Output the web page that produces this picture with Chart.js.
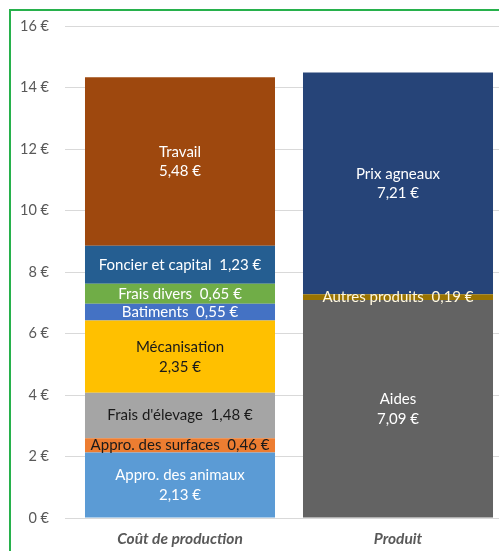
<!DOCTYPE html>
<html>
<head>
<meta charset="utf-8">
<script src="https://cdn.jsdelivr.net/npm/chart.js@4/dist/chart.umd.min.js"></script>
<style>
  html, body { margin: 0; padding: 0; background: #fff; overflow: hidden; }
  #frame { position: absolute; left: 9px; top: 9px; width: 600px; height: 600px; border: 2px solid #27b14c; }
  #chart { position: absolute; left: 0; top: 0; }
</style>
</head>
<body>
<div id="frame"></div>
<canvas id="chart" width="520" height="551"></canvas>
<script>
var categories = ["Coût de production", "Produit"];

var costNames = ["Appro. des animaux", "Appro. des surfaces", "Frais d'élevage", "Mécanisation",
                 "Batiments", "Frais divers", "Foncier et capital", "Travail"];
var costValues = [2.13, 0.46, 1.48, 2.35, 0.55, 0.65, 1.23, 5.48];

var productNames = ["Aides", "Autres produits", "Prix agneaux"];
var productValues = [7.09, 0.19, 7.21];

var yTicks = [0, 2, 4, 6, 8, 10, 12, 14, 16];

// styles
var costColors = ['#5b9bd5', '#ed7d31', '#a5a5a5', '#ffc000', '#4472c4', '#70ad47', '#255e91', '#9e480e'];
var costTextColors = ['#fff', '#1a1a1a', '#1a1a1a', '#1a1a1a', '#fff', '#fff', '#fff', '#fff'];
var costInline = [false, true, true, false, true, true, true, false];
var productColors = ['#636363', '#997300', '#264478'];
var productTextColors = ['#fff', '#fff8e0', '#fff'];
var productInline = [false, true, false];

function euro(v) {
    return v.toFixed(2).replace('.', ',') + ' €';
}

var datasets = [];
costNames.forEach(function (name, i) {
    datasets.push({
        label: name,
        data: [costValues[i], null],
        backgroundColor: costColors[i],
        textColor: costTextColors[i],
        inline: costInline[i]
    });
});
productNames.forEach(function (name, i) {
    datasets.push({
        label: name,
        data: [null, productValues[i]],
        backgroundColor: productColors[i],
        textColor: productTextColors[i],
        inline: productInline[i]
    });
});

var segmentLabels = {
    id: 'segmentLabels',
    afterDatasetsDraw: function (chart) {
        var ctx = chart.ctx;
        ctx.save();
        ctx.font = '15px Lato, "Open Sans", sans-serif';
        ctx.textAlign = 'center';
        ctx.textBaseline = 'middle';
        chart.data.datasets.forEach(function (ds, di) {
            var meta = chart.getDatasetMeta(di);
            meta.data.forEach(function (bar, j) {
                var v = ds.data[j];
                if (v === null) return;
                var cy = (bar.y + bar.base) / 2;
                ctx.fillStyle = ds.textColor;
                if (ds.inline) {
                    ctx.fillText(ds.label + '  ' + euro(v), bar.x, cy);
                } else {
                    ctx.fillText(ds.label, bar.x, cy - 9.5);
                    ctx.fillText(euro(v), bar.x, cy + 10);
                }
            });
        });
        ctx.restore();
    }
};

new Chart(document.getElementById('chart').getContext('2d'), {
    type: 'bar',
    data: { labels: categories, datasets: datasets },
    options: {
        responsive: false,
        animation: false,
        layout: { padding: { top: 26, right: 13, bottom: 0, left: 0 } },
        datasets: { bar: { categoryPercentage: 0.8716, barPercentage: 1, skipNull: true } },
        plugins: { legend: { display: false }, tooltip: { enabled: false } },
        scales: {
            x: {
                stacked: true,
                grid: { display: false, drawTicks: false },
                border: { display: false },
                ticks: {
                    color: '#595959', padding: 12,
                    font: { family: 'Lato, "Open Sans", sans-serif', size: 15.5, style: 'italic', weight: 'bold' }
                },
                afterFit: function (s) { s.height = 33; }
            },
            y: {
                stacked: true,
                min: 0,
                max: 16,
                afterBuildTicks: function (s) {
                    s.ticks = yTicks.map(function (v) { return { value: v }; });
                },
                grid: { color: '#d9d9d9', lineWidth: 1, tickLength: 6 },
                border: { display: false },
                ticks: {
                    color: '#595959', padding: 16,
                    font: { family: 'Lato, "Open Sans", sans-serif', size: 14.5 },
                    callback: function (v) { return v + ' €'; }
                },
                afterFit: function (s) { s.width = 71; }
            }
        }
    },
    plugins: [segmentLabels]
});
</script>
</body>
</html>
